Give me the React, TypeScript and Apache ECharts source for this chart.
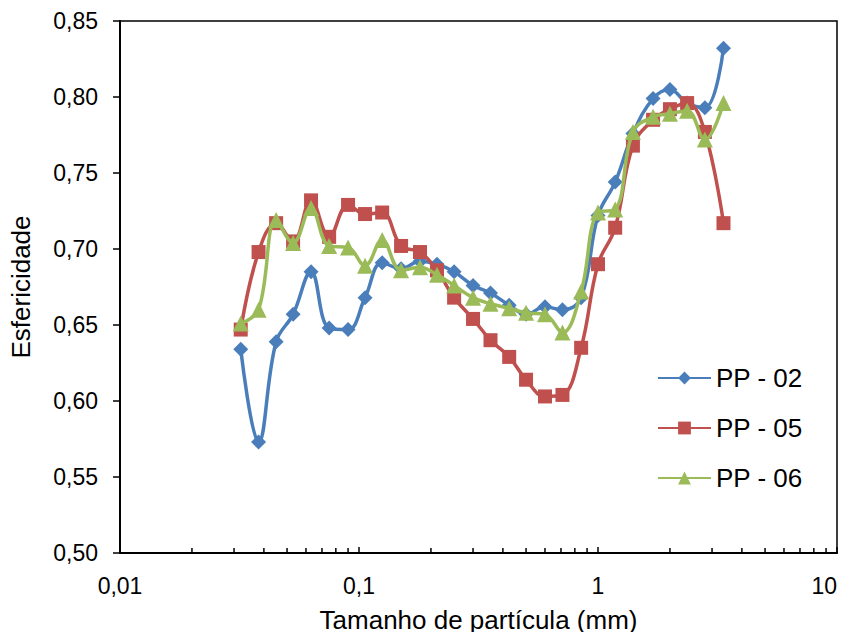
import React, { useEffect, useRef } from "react";
import * as echarts from "echarts";

const sizes = [0.032, 0.038, 0.045, 0.053, 0.063, 0.075, 0.09, 0.106, 0.125, 0.15, 0.18, 0.212, 0.25, 0.3, 0.355, 0.425, 0.5, 0.6, 0.71, 0.85, 1.0, 1.18, 1.4, 1.7, 2.0, 2.36, 2.8, 3.35];

const pp02 = [0.634, 0.573, 0.639, 0.657, 0.685, 0.648, 0.647, 0.668, 0.691, 0.687, 0.692, 0.690, 0.685, 0.676, 0.671, 0.663, 0.657, 0.662, 0.660, 0.668, 0.722, 0.744, 0.776, 0.799, 0.805, 0.796, 0.793, 0.832];
const pp05 = [0.647, 0.698, 0.717, 0.705, 0.732, 0.708, 0.729, 0.723, 0.724, 0.702, 0.698, 0.686, 0.668, 0.654, 0.640, 0.629, 0.614, 0.603, 0.604, 0.635, 0.690, 0.714, 0.768, 0.785, 0.792, 0.796, 0.777, 0.717];
const pp06 = [0.651, 0.660, 0.719, 0.704, 0.727, 0.702, 0.701, 0.689, 0.706, 0.686, 0.688, 0.683, 0.676, 0.668, 0.664, 0.661, 0.658, 0.657, 0.645, 0.672, 0.724, 0.726, 0.777, 0.787, 0.789, 0.791, 0.772, 0.796];

const seriesNames = ["PP - 02", "PP - 05", "PP - 06"];
const minorTicks = [0.02, 0.03, 0.04, 0.05, 0.06, 0.07, 0.08, 0.09, 0.2, 0.3, 0.4, 0.5, 0.6, 0.7, 0.8, 0.9, 2, 3, 4, 5, 6, 7, 8, 9];

const FONT = "'Liberation Sans', Arial, sans-serif";

export default function App() {
  const ref = useRef<HTMLDivElement>(null);
  useEffect(() => {
    if (!ref.current) return;
    const chart = echarts.init(ref.current, undefined, { renderer: "svg" });
    const mk = (vals: number[]) => sizes.map((s, i) => [s, vals[i]]);
    const fmtX = (v: number) => String(v).replace(".", ",");
    chart.setOption({
      animation: false,
      backgroundColor: "#fff",
      textStyle: { fontFamily: FONT },
      grid: { left: 120, right: 18, top: 21, bottom: 87, show: true, borderColor: "#000", borderWidth: 1.5, backgroundColor: "transparent" },
      legend: {
        orient: "vertical",
        left: 652,
        top: 360,
        itemWidth: 53,
        itemHeight: 16,
        itemGap: 24,
        data: seriesNames,
        textStyle: { fontSize: 26, color: "#000", fontFamily: FONT },
      },
      xAxis: {
        type: "log",
        logBase: 10,
        min: 0.01,
        max: 10,
        name: "Tamanho de partícula (mm)",
        nameLocation: "middle",
        nameGap: 54,
        nameTextStyle: { fontSize: 26, color: "#000", fontFamily: FONT },
        axisLine: { lineStyle: { color: "#000", width: 2 } },
        axisTick: { inside: true, length: 6, lineStyle: { color: "#000", width: 1.5 } },
        axisLabel: { fontSize: 23, color: "#000", margin: 21, formatter: fmtX, fontFamily: FONT, alignMaxLabel: "right" },
        splitLine: { show: false },
      },
      yAxis: {
        type: "value",
        min: 0.5,
        max: 0.85,
        interval: 0.05,
        name: "Esfericidade",
        nameLocation: "middle",
        nameGap: 86,
        nameTextStyle: { fontSize: 26, color: "#000", fontFamily: FONT },
        axisLine: { show: true, lineStyle: { color: "#000", width: 2 } },
        axisTick: { show: true, inside: false, length: 7, lineStyle: { color: "#000", width: 1.5 } },
        axisLabel: { fontSize: 23, color: "#000", margin: 22, formatter: (v: number) => v.toFixed(2).replace(".", ","), fontFamily: FONT },
        splitLine: { show: false },
      },
      series: [
        {
          name: "PP - 02",
          type: "line",
          data: mk(pp02),
          smooth: 0.4,
          symbol: "diamond",
          symbolSize: 15,
          itemStyle: { color: "#4A7EBB" },
          lineStyle: { color: "#4A7EBB", width: 3.5 },
          z: 3,
        },
        {
          name: "PP - 05",
          type: "line",
          data: mk(pp05),
          smooth: 0.4,
          symbol: "rect",
          symbolSize: 14,
          itemStyle: { color: "#C0504D" },
          lineStyle: { color: "#C0504D", width: 3.5 },
          z: 4,
        },
        {
          name: "PP - 06",
          type: "line",
          data: mk(pp06),
          smooth: 0.4,
          symbol: "triangle",
          symbolSize: 16,
          itemStyle: { color: "#9BBB59" },
          lineStyle: { color: "#9BBB59", width: 3.5 },
          z: 5,
        },
        {
          name: "minor",
          type: "custom",
          silent: true,
          data: minorTicks.map((t) => [t, 0.5]),
          renderItem: (_p: any, api: any) => {
            const pt = api.coord([api.value(0), api.value(1)]);
            return {
              type: "line",
              shape: { x1: pt[0], y1: pt[1], x2: pt[0], y2: pt[1] - 5 },
              style: { stroke: "#000", lineWidth: 1.5 },
            };
          },
          z: 1,
        },
      ],
    });
    return () => chart.dispose();
  }, []);
  return <div ref={ref} style={{ width: 855, height: 640, margin: -8 }} />;
}
